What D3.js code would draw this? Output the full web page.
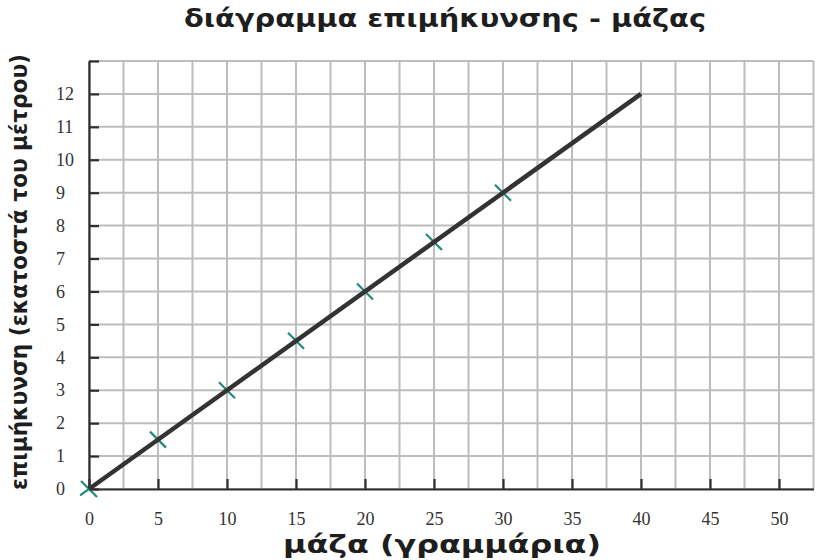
<!DOCTYPE html>
<html>
<head>
<meta charset="utf-8">
<script src="https://cdn.jsdelivr.net/npm/d3@7"></script>
<style>
  body { margin: 0; background: #fff; }
</style>
</head>
<body>
<svg id="chart"></svg>
<script>
var width = 821;
var height = 560;

// data
var massValues = [0, 5, 10, 15, 20, 25, 30];
var stretchValues = [0, 1.5, 3, 4.5, 6, 7.5, 9];
var lineMass = [0, 40];
var lineStretch = [0, 12];
var xTickLabels = [0, 5, 10, 15, 20, 25, 30, 35, 40, 45, 50];
var yTickLabels = [0, 1, 2, 3, 4, 5, 6, 7, 8, 9, 10, 11, 12];

var titleText = "διάγραμμα επιμήκυνσης - μάζας";
var xLabelText = "μάζα (γραμμάρια)";
var yLabelText = "επιμήκυνση (εκατοστά του μέτρου)";

var svg = d3.select("#chart")
  .attr("width", width)
  .attr("height", height);

// scales
var xScale = d3.scaleLinear().domain([0, 52.5]).range([89, 813.5]);
var yScale = d3.scaleLinear().domain([0, 13]).range([489, 61]);

// grid
var grid = svg.append("g");
grid.selectAll("line.v")
  .data(d3.range(0, 52.51, 2.5))
  .enter()
  .append("line")
  .attr("x1", function (d) { return xScale(d); })
  .attr("x2", function (d) { return xScale(d); })
  .attr("y1", yScale(0))
  .attr("y2", yScale(13))
  .attr("stroke", "#bdbdbd")
  .attr("stroke-width", 2);

grid.selectAll("line.h")
  .data(d3.range(0, 13.01, 1))
  .enter()
  .append("line")
  .attr("x1", xScale(0))
  .attr("x2", xScale(52.5))
  .attr("y1", function (d) { return yScale(d); })
  .attr("y2", function (d) { return yScale(d); })
  .attr("stroke", "#bdbdbd")
  .attr("stroke-width", 2);

// axes
var xAxis = d3.axisBottom(xScale)
  .tickValues(xTickLabels)
  .tickSizeInner(-10)
  .tickSizeOuter(0)
  .tickPadding(23);

var yAxis = d3.axisLeft(yScale)
  .tickValues(yTickLabels.concat([13]))
  .tickSizeInner(-10)
  .tickSizeOuter(0)
  .tickFormat(function (d) { return d === 13 ? "" : d; });

var gx = svg.append("g")
  .attr("transform", "translate(0," + yScale(0) + ")")
  .call(xAxis);

var gy = svg.append("g")
  .attr("transform", "translate(" + xScale(0) + ",0)")
  .call(yAxis);

[gx, gy].forEach(function (g) {
  g.attr("font-family", "Liberation Serif, serif").attr("font-size", 18);
  g.select(".domain").attr("stroke", "#2e2e2e").attr("stroke-width", 2.2);
  g.selectAll(".tick line").attr("stroke", "#2e2e2e").attr("stroke-width", 2.2);
  g.selectAll(".tick text").attr("fill", "#333");
});

gy.selectAll(".tick text")
  .attr("text-anchor", "start")
  .attr("x", 56 - xScale(0));

// cross markers: one arm across the line, one along it (hidden under the line)
var ang = Math.atan2(yScale(lineStretch[1]) - yScale(lineStretch[0]),
                     xScale(lineMass[1]) - xScale(lineMass[0]));
var ax = 11 * Math.cos(ang), ay = 11 * Math.sin(ang);
var markPath = "M-8,-8L8,8M" + (-ax) + "," + (-ay) + "L" + ax + "," + ay;

svg.selectAll("path.mark")
  .data(d3.zip(massValues, stretchValues))
  .enter()
  .append("path")
  .attr("class", "mark")
  .attr("transform", function (d) {
    return "translate(" + xScale(d[0]) + "," + yScale(d[1]) + ")";
  })
  .attr("d", markPath)
  .attr("stroke", "#1f8a78")
  .attr("stroke-width", 2.2)
  .attr("fill", "none");

// fitted line
var line = d3.line()
  .x(function (d) { return xScale(d[0]); })
  .y(function (d) { return yScale(d[1]); });

svg.append("path")
  .datum(d3.zip(lineMass, lineStretch))
  .attr("d", line)
  .attr("fill", "none")
  .attr("stroke", "#333")
  .attr("stroke-width", 4.5);

// titles
svg.append("text")
  .attr("x", 445)
  .attr("y", 27)
  .attr("text-anchor", "middle")
  .attr("textLength", 522)
  .attr("lengthAdjust", "spacingAndGlyphs")
  .style("font-family", "DejaVu Sans")
  .style("font-weight", "bold")
  .style("font-size", "25px")
  .style("fill", "#1e1e1e")
  .text(titleText);

svg.append("text")
  .attr("x", 442)
  .attr("y", 553)
  .attr("text-anchor", "middle")
  .attr("textLength", 318)
  .attr("lengthAdjust", "spacingAndGlyphs")
  .style("font-family", "DejaVu Sans")
  .style("font-weight", "bold")
  .style("font-size", "25px")
  .style("fill", "#1e1e1e")
  .text(xLabelText);

svg.append("text")
  .attr("transform", "translate(27,272) rotate(-90)")
  .attr("text-anchor", "middle")
  .attr("textLength", 436)
  .attr("lengthAdjust", "spacingAndGlyphs")
  .style("font-family", "DejaVu Sans")
  .style("font-weight", "bold")
  .style("font-size", "23px")
  .style("fill", "#1e1e1e")
  .text(yLabelText);
</script>
</body>
</html>
